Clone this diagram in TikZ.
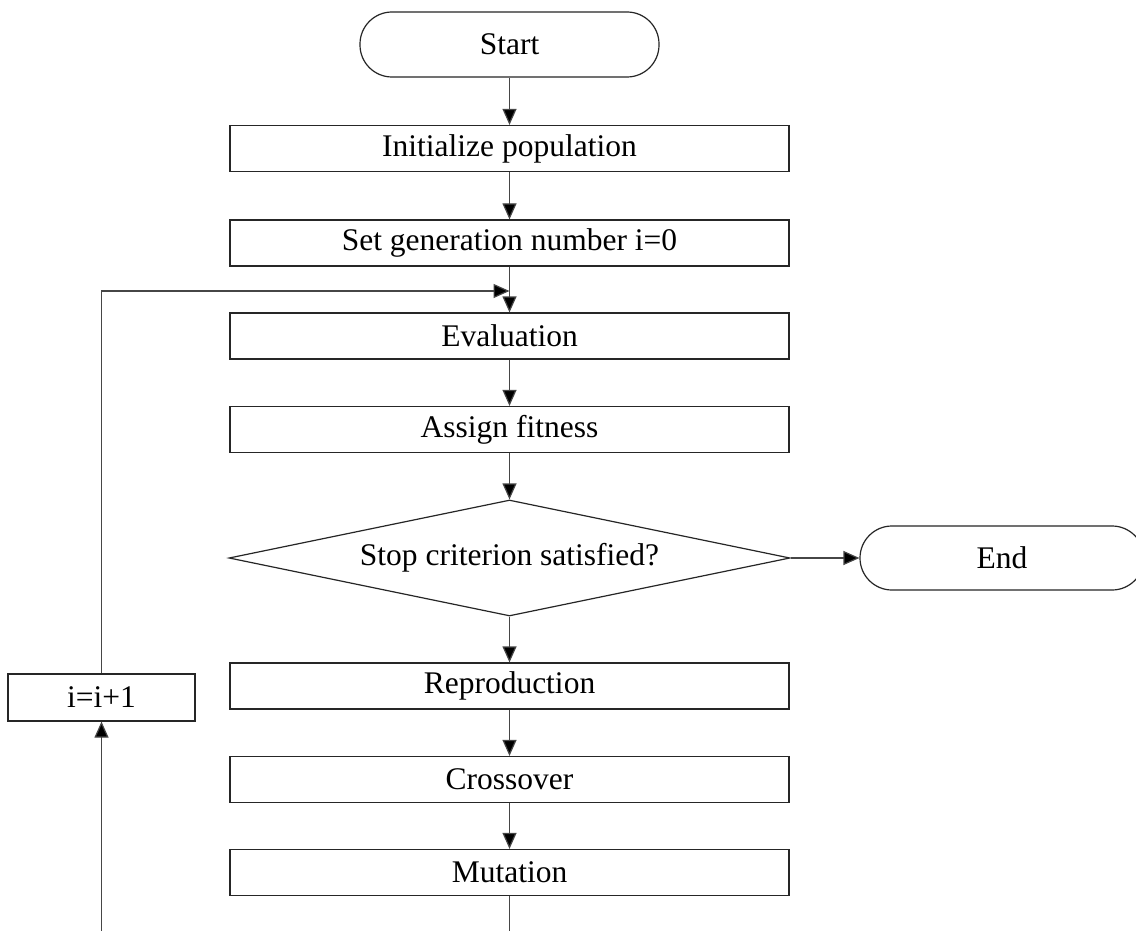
\documentclass[tikz,border=0pt]{standalone}
\usepackage{fontspec}
\setmainfont{Liberation Serif}
\usetikzlibrary{arrows.meta,shapes.geometric}

\definecolor{linegray}{RGB}{70,70,70}

\begin{document}
\begin{tikzpicture}[x=1pt,y=-1pt,
  every node/.style={font=\fontsize{31.5}{38}\selectfont, inner sep=0pt, line width=1.2pt, draw=black!85},
  stepbox/.style={rectangle, minimum width=559pt, minimum height=46pt},
  terminal/.style={rectangle, rounded corners=32pt, minimum height=64pt},
  decision/.style={diamond, aspect=4.8, minimum width=561pt, minimum height=116pt},
  conn/.style={draw=linegray, line width=1.2pt, -{Triangle[length=16pt,width=14pt,fill=black]}}
]
% page frame and clipping window
\path[fill=white] (0,0) rectangle (1136,931);
\clip (0,0) rectangle (1136,931);

% main column
\node[terminal, minimum width=299pt, minimum height=65pt] (start) at (509.5,44.5) {Start};
\node[stepbox] (init)   at (509.5,148.5) {Initialize population};
\node[stepbox] (setgen) at (509.5,243)   {Set generation number i=0};
\node[stepbox] (eval)   at (509.5,336)   {Evaluation};
\node[stepbox] (assign) at (509.5,429.5) {Assign fitness};
\node[decision] (stop)  at (509.5,558)   {Stop criterion satisfied?};
\node[terminal, minimum width=284pt] (end) at (1002,558) {End};
\node[stepbox] (repro)  at (509.5,686)   {Reproduction};
\node[stepbox] (cross)  at (509.5,779.5) {Crossover};
\node[stepbox] (mutate) at (509.5,872.5) {Mutation};

% generation counter on the return branch
\node[rectangle, minimum width=187pt, minimum height=47pt] (inc) at (101.5,697.5) {i=i+1};

% forward flow
\draw[conn] (start) -- (init);
\draw[conn] (init) -- (setgen);
\draw[conn] (setgen) -- (eval);
\draw[conn] (eval) -- (assign);
\draw[conn] (assign) -- (stop);
\draw[conn] (stop) -- (end);
\draw[conn] (stop) -- (repro);
\draw[conn] (repro) -- (cross);
\draw[conn] (cross) -- (mutate);

% return loop: mutation -> counter -> evaluation
\coordinate (below) at (509.5,960);
\coordinate (merge) at (509.5,291);
\draw[conn] (mutate.south) -- (below) -| (inc.south);
\draw[conn] (inc.north) |- (merge);
\end{tikzpicture}
\end{document}
